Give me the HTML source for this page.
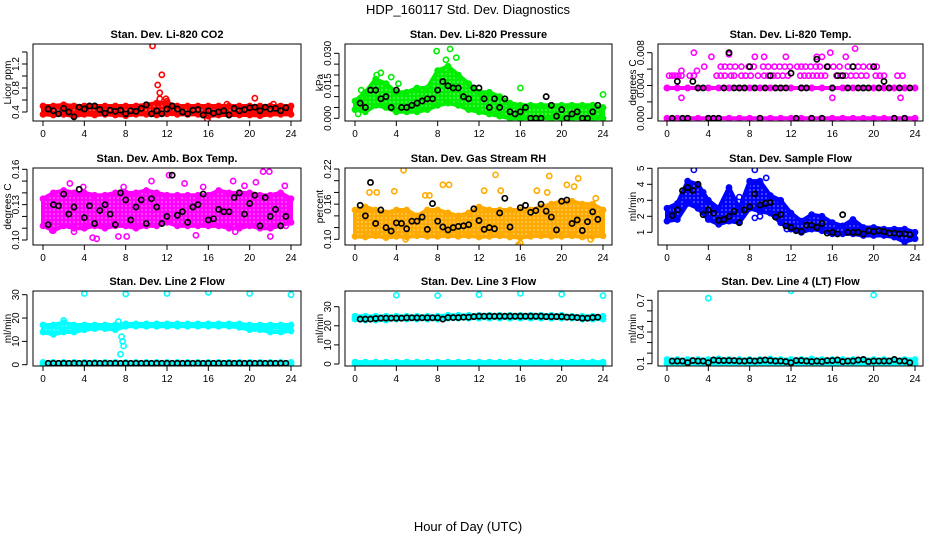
<!DOCTYPE html>
<html><head><meta charset="utf-8"><style>
html,body{margin:0;padding:0;background:#fff;}
svg{display:block;font-family:"Liberation Sans",Arial,sans-serif;}
</style></head><body>
<svg id="chart" width="936" height="540" viewBox="0 0 936 540" xmlns="http://www.w3.org/2000/svg">
<defs id="defs"></defs>
<text x="468" y="14" text-anchor="middle" font-size="13">HDP_160117  Std. Dev. Diagnostics</text>
<text x="468" y="531" text-anchor="middle" font-size="13">Hour of Day (UTC)</text>
</svg>
<script>
// ---------- data (hourly band lo/hi, black points every 0.5 h, extra colored points) ----------
const xTicks=[0,4,8,12,16,20,24];
// CO2
const co2Lo=[0.36,0.35,0.36,0.33,0.36,0.35,0.36,0.35,0.34,0.36,0.36,0.35,0.37,0.36,0.36,0.36,0.33,0.35,0.35,0.35,0.35,0.34,0.36,0.36,0.36];
const co2Hi=[0.5,0.5,0.52,0.5,0.5,0.5,0.5,0.5,0.5,0.5,0.52,0.55,0.55,0.5,0.5,0.5,0.5,0.5,0.5,0.5,0.5,0.5,0.5,0.5,0.5];
const co2Blk=[0.45,0.42,0.37,0.46,0.40,0.32,0.48,0.45,0.50,0.50,0.44,0.38,0.43,0.41,0.43,0.37,0.42,0.41,0.46,0.52,0.37,0.42,0.37,0.45,0.50,0.45,0.40,0.37,0.43,0.44,0.35,0.42,0.38,0.40,0.42,0.35,0.46,0.42,0.44,0.47,0.48,0.42,0.48,0.45,0.46,0.42,0.47];
const co2ExX=[10.6,11.5,11.1,11.3,11.3,12,11.9,20.5,17.8,22.3,15.9];
const co2ExY=[1.5,1.02,0.85,0.72,0.62,0.58,0.62,0.63,0.53,0.53,0.28];
const co2Ticks=[0.4,0.6,0.8,1.0,1.2,1.4];
const co2Labels=["0.4","","0.8","","1.2",""];
// Pressure
const prLo=[0.004,0.003,0.006,0.005,0.003,0.003,0.003,0.004,0.006,0.007,0.006,0.004,0.003,0.002,0.001,0,0,0,0,0,0,0,0,0,0];
const prHi=[0.008,0.012,0.018,0.016,0.012,0.012,0.014,0.014,0.022,0.024,0.020,0.016,0.012,0.012,0.010,0.007,0.006,0.006,0.006,0.006,0.006,0.006,0.006,0.006,0.005];
const prBlk=[0.007,0.005,0.013,0.013,0.009,0.010,0.005,0.013,0.005,0.005,0.006,0.007,0.008,0.009,0.009,0.013,0.017,0.015,0.014,0.014,0.010,0.009,0.014,0.014,0.009,0.005,0.009,0.005,0.009,0.003,0.002,0.003,0.005,0.000,0.000,0.000,0.010,0.006,0.001,0.004,0.000,0.002,0.003,0.000,0.000,0.003,0.006];
const prExX=[0.3,0.6,0.8,2.1,3.5,4.2,7.9,9.2,8.8,9.8,16,24,2.5];
const prExY=[0.002,0.013,0.010,0.020,0.019,0.016,0.031,0.032,0.027,0.028,0.014,0.011,0.021];
const prTicks=[0,0.005,0.010,0.015,0.020,0.025,0.030];
const prLabels=["0.000","","","0.015","","","0.030"];
// Li-820 temp
const tmpLo0=[0,0,0,0,0,0,0,0,0,0,0,0,0,0,0,0,0,0,0,0,0,0,0,0,0];
const tmpHi0=[0,0,0,0,0,0,0,0,0,0,0,0,0,0,0,0,0,0,0,0,0,0,0,0,0];
const tmpLo1=[0.0037,0.0037,0.0037,0.0037,0.0037,0.0037,0.0037,0.0037,0.0037,0.0037,0.0037,0.0037,0.0037,0.0037,0.0037,0.0037,0.0037,0.0037,0.0037,0.0037,0.0037,0.0037,0.0037,0.0037,0.0037];
const tmpHi1=[0.0037,0.0037,0.0037,0.0037,0.0037,0.0037,0.0037,0.0037,0.0037,0.0037,0.0037,0.0037,0.0037,0.0037,0.0037,0.0037,0.0037,0.0037,0.0037,0.0037,0.0037,0.0037,0.0037,0.0037,0.0037];
const tmpBlk=[0,0.0045,0,0,0.0045,0.0037,0.0037,0,0,0,0.0037,0.008,0.0037,0.0037,0.0037,0.0063,0.0037,0,0.0037,0.0052,0.0037,0.0037,0.0037,0.0055,0,0.0037,0.0037,0,0.0072,0,0.0063,0.0037,0.0052,0.0052,0.0037,0.0063,0.0037,0.0037,0.0037,0.0063,0.0037,0.0045,0.0037,0,0.0037,0,0.0037];
const tmpExX=[0.2,0.5,0.8,1.1,1.4,2.2,2.6,4.8,5.2,5.6,6.2,6.5,7.2,7.6,8.1,8.8,9.4,9.8,10.3,10.7,11.2,11.7,12.9,13.3,13.7,14.1,14.5,14.9,15.3,16.4,16.8,17.3,17.8,18.3,18.8,19.3,20.2,20.6,21,22.3,22.8,
 3.6,5.2,5.6,6.1,6.6,7.2,7.9,8.4,9.3,9.8,10.4,10.9,11.4,11.9,12.6,13.0,13.4,13.9,14.4,14.8,15.6,16.1,16.7,17.5,18,18.5,19,19.6,20.3,
 4.3,8.5,9.4,11.5,14.5,15.0,17.3,2.6,15.8,18.2,6.0,1.4,2.9,1.4,16,22.6];
const tmpExY=[0.0052,0.0052,0.0052,0.0052,0.0052,0.0052,0.0052,0.0052,0.0052,0.0052,0.0052,0.0052,0.0052,0.0052,0.0052,0.0052,0.0052,0.0052,0.0052,0.0052,0.0052,0.0052,0.0052,0.0052,0.0052,0.0052,0.0052,0.0052,0.0052,0.0052,0.0052,0.0052,0.0052,0.0052,0.0052,0.0052,0.0052,0.0052,0.0052,0.0052,0.0052,
 0.0063,0.0063,0.0063,0.0063,0.0063,0.0063,0.0063,0.0063,0.0063,0.0063,0.0063,0.0063,0.0063,0.0063,0.0063,0.0063,0.0063,0.0063,0.0063,0.0063,0.0063,0.0063,0.0063,0.0063,0.0063,0.0063,0.0063,0.0063,0.0063,
 0.0075,0.0075,0.0075,0.0075,0.0075,0.0075,0.0075,0.008,0.008,0.0085,0.0078,0.0058,0.0058,0.0025,0.0025,0.0025];
const tmpTicks=[0,0.002,0.004,0.006,0.008];
const tmpLabels=["0.000","","0.004","","0.008"];
// Amb box temp
const ambLo=[0.112,0.108,0.112,0.11,0.11,0.112,0.11,0.112,0.112,0.11,0.112,0.112,0.115,0.112,0.112,0.112,0.112,0.112,0.11,0.11,0.112,0.11,0.11,0.112,0.115];
const ambHi=[0.135,0.14,0.142,0.14,0.14,0.138,0.138,0.14,0.14,0.14,0.142,0.14,0.138,0.138,0.138,0.138,0.138,0.142,0.14,0.14,0.14,0.138,0.138,0.14,0.135];
const ambBlk=[0.113,0.130,0.129,0.139,0.122,0.128,0.143,0.119,0.129,0.114,0.125,0.130,0.122,0.113,0.140,0.134,0.117,0.128,0.134,0.114,0.135,0.128,0.114,0.120,0.155,0.121,0.124,0.115,0.128,0.130,0.139,0.117,0.118,0.126,0.124,0.124,0.136,0.140,0.122,0.131,0.138,0.112,0.136,0.120,0.126,0.112,0.120];
const ambExX=[2.6,5.2,4.8,7.3,7.8,10.5,13.7,14.8,15.5,18.4,19.5,20.6,21.3,21.9,22,23.4,23.5,3,0.9,8.1,18.6,12.2,3.9];
const ambExY=[0.148,0.101,0.102,0.103,0.145,0.15,0.148,0.104,0.145,0.15,0.146,0.149,0.158,0.158,0.103,0.146,0.112,0.107,0.108,0.103,0.107,0.155,0.145];
const ambTicks=[0.10,0.11,0.12,0.13,0.14,0.15,0.16];
const ambLabels=["0.10","","","0.13","","","0.16"];
// Gas stream RH
const rhLo=[0.105,0.104,0.106,0.103,0.105,0.104,0.106,0.105,0.105,0.106,0.105,0.106,0.104,0.105,0.106,0.104,0.103,0.105,0.106,0.105,0.105,0.106,0.104,0.105,0.106];
const rhHi=[0.15,0.155,0.15,0.145,0.15,0.15,0.14,0.15,0.15,0.145,0.14,0.145,0.155,0.15,0.15,0.15,0.15,0.15,0.155,0.16,0.165,0.165,0.16,0.16,0.15];
const rhBlk=[0.158,0.14,0.197,0.127,0.15,0.12,0.114,0.128,0.127,0.118,0.131,0.131,0.138,0.117,0.161,0.131,0.121,0.116,0.12,0.122,0.123,0.125,0.152,0.132,0.117,0.12,0.118,0.145,0.17,0.121,0.232,0.154,0.158,0.146,0.149,0.16,0.148,0.138,0.116,0.165,0.167,0.127,0.133,0.115,0.13,0.147,0.134];
const rhExX=[4.7,1.4,2.1,3.8,6.8,7.2,8.5,9.1,12.5,13.6,14.1,17.6,18.6,18.8,20.5,21.2,21.6,23.3,15.8,16,22.8,4.9];
const rhExY=[0.218,0.18,0.18,0.182,0.175,0.175,0.193,0.193,0.183,0.21,0.183,0.183,0.18,0.208,0.193,0.19,0.204,0.17,0.09,0.093,0.1,0.1];
const rhTicks=[0.10,0.12,0.14,0.16,0.18,0.20,0.22];
const rhLabels=["0.10","","","0.16","","","0.22"];
// Sample flow
const sfLo=[1.7,1.8,2.8,2.5,1.8,1.5,1.7,1.6,2.5,2.3,2.2,1.6,1.2,1.0,1.2,1.1,0.9,0.9,0.9,0.8,0.8,0.8,0.7,0.4,0.6];
const sfHi=[2.5,2.8,4.2,4.0,3.0,2.5,3.8,2.5,4.2,4.2,3.3,3.0,2.2,1.7,2.1,2.0,1.6,1.4,1.8,1.3,1.3,1.2,1.2,1.2,1.0];
const sfBlk=[2.05,2.4,3.6,3.8,3.6,4.0,2.1,2.4,2.2,1.75,1.8,2.0,2.3,1.6,2.4,2.6,3.4,2.7,2.8,2.85,1.95,2.1,1.4,1.3,1.1,1.05,1.45,1.45,1.3,1.55,0.95,1.0,0.9,2.1,1.0,1.0,1.0,0.9,1.1,1.05,1.1,1.05,0.95,0.95,0.9,0.9,0.85];
const sfExX=[2.6,8.5,9.6,11.6,8.5,9,3.5,7];
const sfExY=[4.9,4.9,4.4,1.2,1.9,2.0,3.5,3.2];
const sfTicks=[1,2,3,4,5];
const sfLabels=["1","2","3","4","5"];
// Line 2 flow
const l2Lo=[14,13,14,14,15,15.5,15.5,15,16.5,16.5,16.5,16.5,16.5,16.5,16.5,16.5,16.5,16.5,16.5,16,15,15,14,14,14.5];
const l2Hi=[17,17,18,17,17,17,17,17,17.5,17.5,17.5,17.5,17.5,17.5,17.5,17.5,17.5,17.5,17.5,17.5,17,17,17,17,17];
const l2Lo0=[0,0,0,0,0,0,0,0,0,0,0,0,0,0,0,0,0,0,0,0,0,0,0,0,0];
const l2Hi0=[1,1,1,1,1,1,1,1,1,1,1,1,1,1,1,1,1,1,1,1,1,1,1,1,1];
const l2Blk=[0.6,0.6,0.6,0.6,0.6,0.6,0.6,0.6,0.6,0.6,0.6,0.6,0.6,0.6,0.6,0.6,0.6,0.6,0.6,0.6,0.6,0.6,0.6,0.6,0.6,0.6,0.6,0.6,0.6,0.6,0.6,0.6,0.6,0.6,0.6,0.6,0.6,0.6,0.6,0.6,0.6,0.6,0.6,0.6,0.6,0.6,0.6];
const l2ExX=[7.6,7.7,7.8,7.5,7.3,2,1.5,4,8,12,16,20,24];
const l2ExY=[12,10,8,4.5,18.5,19,17,30.5,30.3,30.5,31,30.5,30];
const l2Ticks=[0,10,20,30];
const l2Labels=["0","10","20","30"];
// Line 3 flow
const l3Lo=[23.5,23,23,23,23.5,23.5,23.5,23.5,23.5,24,24,24,24,24,24,24,24,24,24,24,24,24,23.5,23.5,23.5];
const l3Hi=[25,25,25,25,25,25,25,25,25,25.5,25.5,25.5,25.5,25.5,25.5,25.5,25.5,25.5,25.5,25.5,25.5,25,25,25,25];
const l3Lo0=[0,0,0,0,0,0,0,0,0,0,0,0,0,0,0,0,0,0,0,0,0,0,0,0,0];
const l3Hi0=[1,1,1,1,1,1,1,1,1,1,1,1,1,1,1,1,1,1,1,1,1,1,1,1,1];
const l3Blk=[23.5,23.5,23.5,23.8,24,24,24,24,24,24.2,24.2,24.2,24.2,24.2,24.2,24.2,23.5,24.3,24.3,24.3,24.5,24.5,24.8,25,25,25,25,25,25,25,25,25,25,25,25,25,24.8,24.8,24.8,24.8,24.5,24.5,24.3,24,24,24.3,24.5];
const l3ExX=[4,8,12,16,20,24];
const l3ExY=[36,35.8,36.3,37,36.5,35.8];
const l3Ticks=[0,10,20,30];
const l3Labels=["0","10","20","30"];
// Line 4 flow
const l4Lo=[0.1,0.1,0.1,0.1,0.1,0.1,0.1,0.1,0.1,0.1,0.1,0.1,0.1,0.1,0.1,0.1,0.1,0.1,0.1,0.1,0.1,0.1,0.1,0.1,0.1];
const l4Hi=[0.14,0.14,0.14,0.14,0.14,0.145,0.14,0.14,0.14,0.14,0.145,0.14,0.14,0.14,0.145,0.14,0.14,0.14,0.14,0.14,0.14,0.14,0.14,0.14,0.14];
const l4Blk=[0.125,0.125,0.125,0.11,0.13,0.125,0.125,0.11,0.135,0.13,0.13,0.13,0.13,0.125,0.125,0.13,0.125,0.13,0.135,0.13,0.125,0.125,0.12,0.11,0.13,0.13,0.125,0.12,0.125,0.12,0.13,0.13,0.135,0.12,0.125,0.125,0.135,0.14,0.12,0.125,0.125,0.125,0.125,0.14,0.125,0.125,0.11];
const l4ExX=[4,12,20];
const l4ExY=[0.72,0.79,0.75];
const l4Ticks=[0.1,0.2,0.3,0.4,0.5,0.6,0.7];
const l4Labels=["0.1","","","0.4","","","0.7"];

// ---------- layout ----------
const cols=[{l:33,r:301,x0:43,x24:291},{l:345,r:612,x0:355,x24:603},{l:658,r:923,x0:667,x24:915}];
const rows=[{t:44,b:121},{t:168,b:245},{t:291,b:366}];
const NS="http://www.w3.org/2000/svg";
const svg=document.getElementById('chart');
const defs=document.getElementById('defs');
function el(tag,attrs,parent){const e=document.createElementNS(NS,tag);for(const k in attrs)e.setAttribute(k,attrs[k]);(parent||svg).appendChild(e);return e;}

function panel(o){
  const c=cols[o.col], r=rows[o.row];
  const g=el('g',{});
  
  
  const xs=h=>c.x0+(c.x24-c.x0)*h/24;
  const ys=v=>o.p0+(o.p1-o.p0)*(v-o.v0)/(o.v1-o.v0);
  const clip='clip-'+o.name;
  const cp=el('clipPath',{id:clip},g);
  el('rect',{x:c.l,y:r.t,width:c.r-c.l,height:r.b-r.t},cp);
  // speckled pattern resembling overlapping open circles
  const pid='pat-'+o.name;
  const pat=el('pattern',{id:pid,width:4,height:4,patternUnits:'userSpaceOnUse'},defs);
  el('rect',{x:0,y:0,width:4,height:4,fill:o.color},pat);
  el('rect',{x:1.5,y:1.5,width:1,height:1,fill:'#fff'},pat);
  const marks=el('g',{'clip-path':'url(#'+clip+')'},g);
  o.bands.forEach((b,bi)=>{
    let pts=[];
    b[0].forEach((v,i)=>pts.push(xs(i)+','+ys(b[1][i])));
    for(let i=b[0].length-1;i>=0;i--)pts.push(xs(i)+','+ys(b[0][i]));
    const p=el('polygon',{points:pts.join(' '),fill:'url(#'+pid+')',stroke:o.color,'stroke-width':4,'stroke-linejoin':'round'},marks);
    
    
    b[0].forEach((v,i)=>{
      [b[0][i],b[1][i]].forEach(val=>{
        const cc=el('circle',{cx:xs(i),cy:ys(val),r:2.6,fill:'none',stroke:o.color,'stroke-width':1.6},marks);
        
        
      });
    });
  });
  o.exX.forEach((h,i)=>{
    const cc=el('circle',{cx:xs(h),cy:ys(o.exY[i]),r:2.6,fill:'none',stroke:o.color,'stroke-width':1.6},marks);
    
    
  });
  o.blk.forEach((v,i)=>{
    const cc=el('circle',{cx:xs((i+1)*0.5),cy:ys(v),r:2.6,fill:'none',stroke:'#000','stroke-width':1.7},marks);
    
    
  });
  const bx=el('rect',{x:c.l,y:r.t,width:c.r-c.l,height:r.b-r.t,fill:'none',stroke:'#000','stroke-width':1},g);
  
  
  const xa=el('g',{},g);
  
  
  el('line',{x1:xs(0),x2:xs(24),y1:r.b,y2:r.b,stroke:'#000'},xa);
  xTicks.forEach(h=>{
    el('line',{x1:xs(h),x2:xs(h),y1:r.b,y2:r.b+5,stroke:'#000'},xa);
    const t=el('text',{x:xs(h),y:r.b+16,'text-anchor':'middle','font-size':10},xa);
    t.textContent=h;
    
    
  });
  const ya=el('g',{},g);
  
  
  const yl=c.l-6;
  el('line',{x1:yl,x2:yl,y1:ys(o.ticks[0]),y2:ys(o.ticks[o.ticks.length-1]),stroke:'#000'},ya);
  o.ticks.forEach((v,i)=>{
    el('line',{x1:yl-5,x2:yl,y1:ys(v),y2:ys(v),stroke:'#000'},ya);
    if(o.labels[i]){
      const tx=yl-8, ty=ys(v);
      const t=el('text',{x:tx,y:ty,'text-anchor':'middle','font-size':10,transform:'rotate(-90 '+tx+' '+ty+')'},ya);
      t.textContent=o.labels[i];
      
      
    }
  });
  const ttx=c.l-22, tty=(r.t+r.b)/2;
  const yt=el('text',{x:ttx,y:tty,'text-anchor':'middle','font-size':10,transform:'rotate(-90 '+ttx+' '+tty+')'},g);
  yt.textContent=o.ylab;
  
  
  const tt=el('text',{x:(c.l+c.r)/2,y:r.t-6,'text-anchor':'middle','font-size':11,'font-weight':'bold'},g);
  tt.textContent=o.title;
  
  
}

panel({name:'co2',col:0,row:0,title:'Stan. Dev. Li-820 CO2',ylab:'Licor ppm',color:'#ff0000',v0:0.4,p0:112,v1:1.2,p1:64,bands:[[co2Lo,co2Hi]],blk:co2Blk,exX:co2ExX,exY:co2ExY,ticks:co2Ticks,labels:co2Labels});
panel({name:'pressure',col:1,row:0,title:'Stan. Dev. Li-820 Pressure',ylab:'kPa',color:'#00ee00',v0:0,p0:118.3,v1:0.03,p1:53.3,bands:[[prLo,prHi]],blk:prBlk,exX:prExX,exY:prExY,ticks:prTicks,labels:prLabels});
panel({name:'li820-temp',col:2,row:0,title:'Stan. Dev. Li-820 Temp.',ylab:'degrees C',color:'#ff00ff',v0:0,p0:118.3,v1:0.008,p1:52.7,bands:[[tmpLo0,tmpHi0],[tmpLo1,tmpHi1]],blk:tmpBlk,exX:tmpExX,exY:tmpExY,ticks:tmpTicks,labels:tmpLabels});
panel({name:'amb-box-temp',col:0,row:1,title:'Stan. Dev. Amb. Box Temp.',ylab:'degrees C',color:'#ff00ff',v0:0.10,p0:240,v1:0.16,p1:169.3,bands:[[ambLo,ambHi]],blk:ambBlk,exX:ambExX,exY:ambExY,ticks:ambTicks,labels:ambLabels});
panel({name:'gas-rh',col:1,row:1,title:'Stan. Dev. Gas Stream RH',ylab:'percent',color:'#ffaa00',v0:0.10,p0:239.3,v1:0.22,p1:169,bands:[[rhLo,rhHi]],blk:rhBlk,exX:rhExX,exY:rhExY,ticks:rhTicks,labels:rhLabels});
panel({name:'sample-flow',col:2,row:1,title:'Stan. Dev. Sample Flow',ylab:'ml/min',color:'#0000ff',v0:1,p0:232.3,v1:5,p1:168.3,bands:[[sfLo,sfHi]],blk:sfBlk,exX:sfExX,exY:sfExY,ticks:sfTicks,labels:sfLabels});
panel({name:'line2-flow',col:0,row:2,title:'Stan. Dev. Line 2 Flow',ylab:'ml/min',color:'#00ffff',v0:0,p0:364.7,v1:30,p1:294.7,bands:[[l2Lo,l2Hi],[l2Lo0,l2Hi0]],blk:l2Blk,exX:l2ExX,exY:l2ExY,ticks:l2Ticks,labels:l2Labels});
panel({name:'line3-flow',col:1,row:2,title:'Stan. Dev. Line 3 Flow',ylab:'ml/min',color:'#00ffff',v0:0,p0:364,v1:30,p1:306.7,bands:[[l3Lo,l3Hi],[l3Lo0,l3Hi0]],blk:l3Blk,exX:l3ExX,exY:l3ExY,ticks:l3Ticks,labels:l3Labels});
panel({name:'line4-flow',col:2,row:2,title:'Stan. Dev. Line 4 (LT) Flow',ylab:'ml/min',color:'#00ffff',v0:0.1,p0:363.7,v1:0.7,p1:300.3,bands:[[l4Lo,l4Hi]],blk:l4Blk,exX:l4ExX,exY:l4ExY,ticks:l4Ticks,labels:l4Labels});
</script>
</body></html>
